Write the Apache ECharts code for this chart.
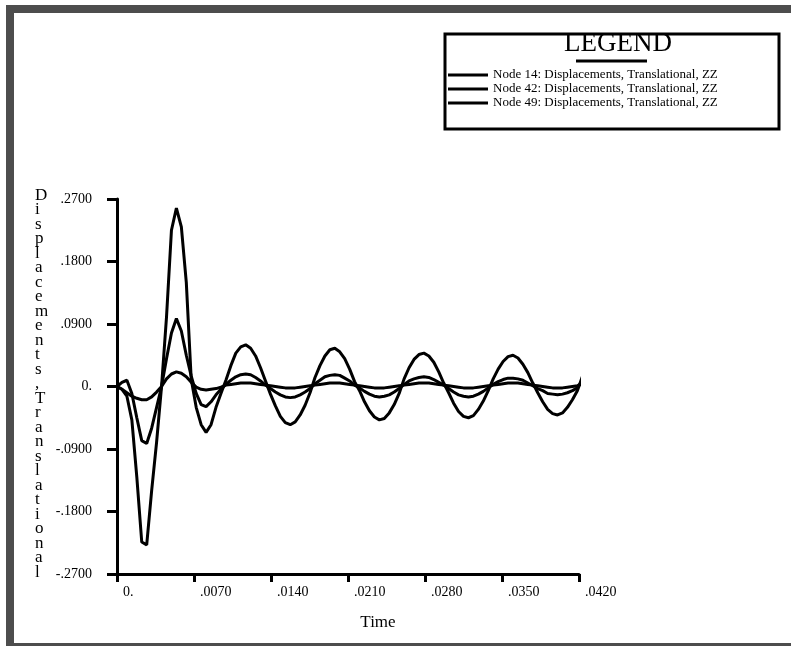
<!DOCTYPE html>
<html>
<head>
<meta charset="utf-8">
<title>Displacements vs Time</title>
<script src="https://cdn.jsdelivr.net/npm/echarts@6/dist/echarts.min.js"></script>
<style>
html, body { margin: 0; padding: 0; background: #fff; }
#main { width: 791px; height: 646px; }
</style>
</head>
<body>
<div id="main"></div>
<script>
// sample times (s)
var time = [0, 0.00045, 0.0009, 0.00135, 0.0018, 0.00225, 0.0027, 0.00315, 0.0036, 0.00405,
	0.0045, 0.00495, 0.0054, 0.00585, 0.0063, 0.00675, 0.0072, 0.00765, 0.0081, 0.00855,
	0.009, 0.00945, 0.0099, 0.01035, 0.0108, 0.01125, 0.0117, 0.01215, 0.0126, 0.01305,
	0.0135, 0.01395, 0.0144, 0.01485, 0.0153, 0.01575, 0.0162, 0.01665, 0.0171, 0.01755,
	0.018, 0.01845, 0.0189, 0.01935, 0.0198, 0.02025, 0.0207, 0.02115, 0.0216, 0.02205,
	0.0225, 0.02295, 0.0234, 0.02385, 0.0243, 0.02475, 0.0252, 0.02565, 0.0261, 0.02655,
	0.027, 0.02745, 0.0279, 0.02835, 0.0288, 0.02925, 0.0297, 0.03015, 0.0306, 0.03105,
	0.0315, 0.03195, 0.0324, 0.03285, 0.0333, 0.03375, 0.0342, 0.03465, 0.0351, 0.03555,
	0.036, 0.03645, 0.0369, 0.03735, 0.0378, 0.03825, 0.0387, 0.03915, 0.0396, 0.04005,
	0.0405, 0.04095, 0.0414, 0.04185, 0.0423];

var node14 = [0, -0.004, -0.014, -0.048, -0.13, -0.224, -0.228, -0.15, -0.08, 0.0,
	0.10, 0.225, 0.257, 0.23, 0.15, 0.01, -0.03, -0.055, -0.066, -0.055,
	-0.03, -0.01, 0.009, 0.03, 0.048, 0.057, 0.06, 0.055, 0.044, 0.027,
	0.008, -0.011, -0.028, -0.043, -0.052, -0.055, -0.051, -0.041, -0.027, -0.009,
	0.013, 0.030, 0.044, 0.053, 0.055, 0.050, 0.040, 0.025, 0.007, -0.006,
	-0.022, -0.035, -0.044, -0.048, -0.046, -0.038, -0.026, -0.010, 0.011, 0.027,
	0.039, 0.046, 0.048, 0.044, 0.035, 0.021, 0.005, -0.009, -0.024, -0.036,
	-0.043, -0.045, -0.042, -0.033, -0.021, -0.006, 0.011, 0.025, 0.036, 0.043,
	0.045, 0.041, 0.032, 0.020, 0.005, -0.009, -0.022, -0.033, -0.039, -0.041,
	-0.038, -0.030, -0.019, -0.006, 0.014];

var node42 = [0, 0.006, 0.009, -0.01, -0.045, -0.078, -0.082, -0.06, -0.03, 0.0,
	0.04, 0.077, 0.098, 0.08, 0.045, 0.015, -0.01, -0.026, -0.029, -0.022,
	-0.012, -0.004, 0.003, 0.009, 0.014, 0.017, 0.018, 0.017, 0.013, 0.008,
	0.002, -0.003, -0.008, -0.012, -0.015, -0.016, -0.015, -0.012, -0.008, -0.003,
	0.004, 0.009, 0.014, 0.016, 0.017, 0.016, 0.012, 0.008, 0.002, -0.002,
	-0.007, -0.011, -0.014, -0.015, -0.014, -0.012, -0.008, -0.003, 0.003, 0.008,
	0.011, 0.013, 0.014, 0.013, 0.010, 0.006, 0.002, -0.003, -0.008, -0.012,
	-0.014, -0.015, -0.014, -0.011, -0.007, -0.002, 0.003, 0.007, 0.010, 0.012,
	0.012, 0.011, 0.009, 0.005, 0.001, -0.003, -0.006, -0.010, -0.011, -0.012,
	-0.011, -0.009, -0.006, -0.002, 0.008];

var node49 = [0, -0.004, -0.009, -0.014, -0.017, -0.019, -0.019, -0.015, -0.008, 0.0,
	0.011, 0.018, 0.021, 0.019, 0.014, 0.006, -0.001, -0.004, -0.005, -0.004,
	-0.003, -0.001, 0.002, 0.003, 0.004, 0.005, 0.005, 0.005, 0.004, 0.003,
	0.002, 0.001, 0.0, -0.001, -0.002, -0.002, -0.002, -0.001, 0.0, 0.001,
	0.002, 0.003, 0.004, 0.005, 0.005, 0.005, 0.004, 0.003, 0.002, 0.001,
	0.0, -0.001, -0.002, -0.002, -0.002, -0.001, 0.0, 0.001, 0.002, 0.003,
	0.004, 0.005, 0.005, 0.005, 0.004, 0.003, 0.002, 0.001, 0.0, -0.001,
	-0.002, -0.002, -0.002, -0.001, 0.0, 0.001, 0.002, 0.003, 0.004, 0.005,
	0.005, 0.005, 0.004, 0.003, 0.002, 0.001, 0.0, -0.001, -0.002, -0.002,
	-0.002, -0.001, 0.0, 0.001, 0.005];

var seriesNames = [
	'Node 14: Displacements, Translational, ZZ',
	'Node 42: Displacements, Translational, ZZ',
	'Node 49: Displacements, Translational, ZZ'
];
var xTickLabels = ['0.', '.0070', '.0140', '.0210', '.0280', '.0350', '.0420'];
var yTickLabels = ['-.2700', '-.1800', '-.0900', '0.', '.0900', '.1800', '.2700'];
var yAxisTitle = 'Displacements,Translational';

var serif = 'Liberation Serif';

function pairs(vals) {
	var out = [];
	for (var i = 0; i < vals.length; i++) {
		out.push([time[i], vals[i]]);
	}
	return out;
}

function lineSeries(name, vals) {
	return {
		name: name,
		type: 'line',
		data: pairs(vals),
		symbol: 'none',
		showSymbol: false,
		clip: false,
		lineStyle: { color: '#000', width: 3 },
		itemStyle: { color: '#000' }
	};
}

window.onload = function () {
	var myChart = echarts.init(document.getElementById('main'));

	myChart.setOption({
		animation: false,
		backgroundColor: '#fff',
		grid: { left: 117, top: 199, width: 462, height: 375 },
		legend: {
			data: seriesNames,
			orient: 'vertical',
			left: 448,
			top: 68,
			padding: 0,
			itemGap: 0,
			itemWidth: 40,
			itemHeight: 3,
			icon: 'rect',
			selectedMode: false,
			textStyle: { color: '#000', fontFamily: serif, fontSize: 13, lineHeight: 14 }
		},
		xAxis: {
			type: 'value',
			min: 0,
			max: 0.042,
			interval: 0.007,
			axisLine: { onZero: false, lineStyle: { color: '#000', width: 3 } },
			axisTick: { length: 8, lineStyle: { color: '#000', width: 3 } },
			axisLabel: {
				color: '#000', fontFamily: serif, fontSize: 14, margin: 11,
				align: 'left', padding: [0, 0, 0, 6],
				formatter: function (v) { return xTickLabels[Math.round(v / 0.007)]; }
			},
			splitLine: { show: false },
			name: 'Time',
			nameLocation: 'middle',
			nameGap: 40,
			nameTextStyle: { color: '#000', fontFamily: serif, fontSize: 17, padding: [0, 0, 0, 60] }
		},
		yAxis: {
			type: 'value',
			min: -0.27,
			max: 0.27,
			interval: 0.09,
			axisLine: { show: true, onZero: false, lineStyle: { color: '#000', width: 3 } },
			axisTick: { show: true, length: 10, lineStyle: { color: '#000', width: 3 } },
			axisLabel: {
				color: '#000', fontFamily: serif, fontSize: 14, margin: 25,
				formatter: function (v) { return yTickLabels[Math.round((v + 0.27) / 0.09)]; }
			},
			splitLine: { show: false }
		},
		graphic: [
			// grey frame, open to the right and bottom edge
			{
				type: 'rect', silent: true, z: 0,
				shape: { x: 10, y: 9, width: 800, height: 638 },
				style: { fill: null, stroke: '#4d4d4d', lineWidth: 8 }
			},
			// legend box
			{
				type: 'rect', silent: true, z: 0,
				shape: { x: 445, y: 34, width: 334, height: 95 },
				style: { fill: null, stroke: '#000', lineWidth: 3 }
			},
			{
				type: 'text', silent: true, x: 618, y: 44,
				style: {
					text: 'LEGEND', fill: '#000', font: '27px "Liberation Serif"',
					align: 'center', verticalAlign: 'middle',
					textAlign: 'center', textVerticalAlign: 'middle'
				}
			},
			{
				type: 'line', silent: true,
				shape: { x1: 576, y1: 61, x2: 647, y2: 61 },
				style: { stroke: '#000', lineWidth: 3 }
			},
			// stacked y axis title
			{
				type: 'text', silent: true, x: 35, y: 188,
				style: {
					text: yAxisTitle.split('').join('\n'),
					fill: '#000', font: '17px "Liberation Serif"', lineHeight: 14.5,
					align: 'left', verticalAlign: 'top',
					textAlign: 'left', textVerticalAlign: 'top'
				}
			}
		],
		series: [
			lineSeries(seriesNames[0], node14),
			lineSeries(seriesNames[1], node42),
			lineSeries(seriesNames[2], node49)
		]
	});
};
</script>
</body>
</html>
